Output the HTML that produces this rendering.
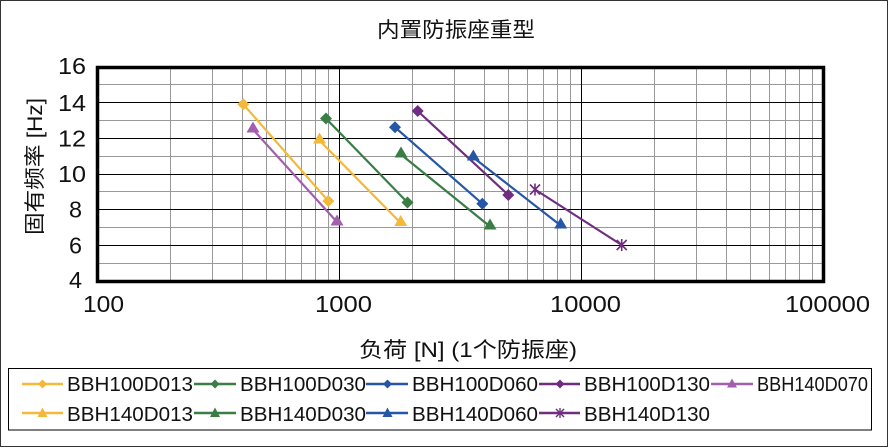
<!DOCTYPE html>
<html><head><meta charset="utf-8"><style>
html,body{margin:0;padding:0;background:#fff;}
svg{display:block;}
text{font-family:"Liberation Sans","Noto Sans CJK SC",sans-serif;fill:#111;}
</style></head><body>
<svg width="889" height="448" viewBox="0 0 889 448" xmlns="http://www.w3.org/2000/svg">
<rect x="0" y="0" width="889" height="448" fill="#fff"/>
<rect x="0.5" y="0.5" width="887" height="446" fill="none" stroke="#333" stroke-width="1"/>
<text x="377" y="37" font-size="21" textLength="158" lengthAdjust="spacingAndGlyphs">内置防振座重型</text>
<g stroke="#999" stroke-width="1" shape-rendering="crispEdges">
<line x1="170.5" y1="67" x2="170.5" y2="281"/><line x1="212.5" y1="67" x2="212.5" y2="281"/><line x1="242.5" y1="67" x2="242.5" y2="281"/><line x1="266.5" y1="67" x2="266.5" y2="281"/><line x1="285.5" y1="67" x2="285.5" y2="281"/><line x1="301.5" y1="67" x2="301.5" y2="281"/><line x1="315.5" y1="67" x2="315.5" y2="281"/><line x1="328.5" y1="67" x2="328.5" y2="281"/>
<line x1="412.5" y1="67" x2="412.5" y2="281"/><line x1="454.5" y1="67" x2="454.5" y2="281"/><line x1="484.5" y1="67" x2="484.5" y2="281"/><line x1="508.5" y1="67" x2="508.5" y2="281"/><line x1="527.5" y1="67" x2="527.5" y2="281"/><line x1="543.5" y1="67" x2="543.5" y2="281"/><line x1="557.5" y1="67" x2="557.5" y2="281"/><line x1="570.5" y1="67" x2="570.5" y2="281"/>
<line x1="654.5" y1="67" x2="654.5" y2="281"/><line x1="696.5" y1="67" x2="696.5" y2="281"/><line x1="726.5" y1="67" x2="726.5" y2="281"/><line x1="750.5" y1="67" x2="750.5" y2="281"/><line x1="769.5" y1="67" x2="769.5" y2="281"/><line x1="785.5" y1="67" x2="785.5" y2="281"/><line x1="799.5" y1="67" x2="799.5" y2="281"/><line x1="812.5" y1="67" x2="812.5" y2="281"/>
<line x1="97" y1="84.5" x2="824" y2="84.5"/><line x1="97" y1="120.5" x2="824" y2="120.5"/><line x1="97" y1="156.5" x2="824" y2="156.5"/><line x1="97" y1="191.5" x2="824" y2="191.5"/><line x1="97" y1="227.5" x2="824" y2="227.5"/><line x1="97" y1="263.5" x2="824" y2="263.5"/>
</g>
<g stroke="#000" stroke-width="1" shape-rendering="crispEdges">
<line x1="339.5" y1="67" x2="339.5" y2="281"/><line x1="581.5" y1="67" x2="581.5" y2="281"/>
<line x1="97" y1="102.5" x2="824" y2="102.5"/><line x1="97" y1="138.5" x2="824" y2="138.5"/><line x1="97" y1="174.5" x2="824" y2="174.5"/><line x1="97" y1="209.5" x2="824" y2="209.5"/><line x1="97" y1="245.5" x2="824" y2="245.5"/>
</g>
<rect x="97.5" y="67.5" width="726" height="214" fill="none" stroke="#000" stroke-width="3.5"/>
<!-- y labels -->
<g font-size="23">
<text x="58" y="74" textLength="28" lengthAdjust="spacingAndGlyphs">16</text>
<text x="58" y="111" textLength="28" lengthAdjust="spacingAndGlyphs">14</text>
<text x="58" y="146.5" textLength="28" lengthAdjust="spacingAndGlyphs">12</text>
<text x="58" y="182" textLength="28" lengthAdjust="spacingAndGlyphs">10</text>
<text x="69" y="217.5" textLength="13" lengthAdjust="spacingAndGlyphs">8</text>
<text x="69" y="253.5" textLength="13" lengthAdjust="spacingAndGlyphs">6</text>
<text x="69" y="288" textLength="13" lengthAdjust="spacingAndGlyphs">4</text>
</g>
<g font-size="23">
<text x="83" y="312" textLength="41" lengthAdjust="spacingAndGlyphs">100</text>
<text x="315" y="312" textLength="57" lengthAdjust="spacingAndGlyphs">1000</text>
<text x="550" y="312" textLength="71" lengthAdjust="spacingAndGlyphs">10000</text>
<text x="785" y="312" textLength="85" lengthAdjust="spacingAndGlyphs">100000</text>
</g>
<text transform="translate(42,235) rotate(-90)" x="0" y="0" font-size="21" textLength="137" lengthAdjust="spacingAndGlyphs">固有频率 [Hz]</text>
<text x="359" y="357" font-size="21" textLength="218" lengthAdjust="spacingAndGlyphs">负荷 [N] (1个防振座)</text>
<!-- series -->
<g stroke-width="2.2" fill="none">
<polyline points="243.3,104.3 328.3,201" stroke="#F4B93A"/>
<polyline points="253,129.5 337,222" stroke="#A45EAE"/>
<polyline points="326,118.5 407.5,202.5" stroke="#3A7D45"/>
<polyline points="319.5,140.5 400.7,223" stroke="#F4B93A"/>
<polyline points="401,154.5 490,226.5" stroke="#3A7D45"/>
<polyline points="395,127.3 482.3,203.7" stroke="#2557A6"/>
<polyline points="417.7,111 508.3,195" stroke="#702D7F"/>
<polyline points="473.3,157.5 560.7,225.5" stroke="#2557A6"/>
<polyline points="535,189.5 621.7,245" stroke="#702D7F"/>
</g>
<g>
<!-- diamonds -->
<polygon points="243.3,98.3 249.3,104.3 243.3,110.3 237.3,104.3" fill="#F4B93A"/>
<polygon points="328.3,195 334.3,201 328.3,207 322.3,201" fill="#F4B93A"/>
<polygon points="326,112.5 332,118.5 326,124.5 320,118.5" fill="#3A7D45"/>
<polygon points="407.5,196.5 413.5,202.5 407.5,208.5 401.5,202.5" fill="#3A7D45"/>
<polygon points="395,121.3 401,127.3 395,133.3 389,127.3" fill="#2557A6"/>
<polygon points="482.3,197.7 488.3,203.7 482.3,209.7 476.3,203.7" fill="#2557A6"/>
<polygon points="417.7,105 423.7,111 417.7,117 411.7,111" fill="#702D7F"/>
<polygon points="508.3,189 514.3,195 508.3,201 502.3,195" fill="#702D7F"/>
<!-- triangles -->
<polygon points="253,121.5 259.5,132.5 246.5,132.5" fill="#A45EAE"/>
<polygon points="337,214.5 343.5,225.5 330.5,225.5" fill="#A45EAE"/>
<polygon points="319.5,132.5 326,143.5 313,143.5" fill="#F4B93A"/>
<polygon points="400.7,215 407.2,226 394.2,226" fill="#F4B93A"/>
<polygon points="401,146.5 407.5,157.5 394.5,157.5" fill="#3A7D45"/>
<polygon points="490,218.5 496.5,229.5 483.5,229.5" fill="#3A7D45"/>
<polygon points="473.3,149.5 479.8,160.5 466.8,160.5" fill="#2557A6"/>
<polygon points="560.7,217.5 567.2,228.5 554.2,228.5" fill="#2557A6"/>
<!-- stars -->
<g stroke="#702D7F" stroke-width="1.6">
<line x1="530" y1="184.5" x2="540" y2="194.5"/><line x1="540" y1="184.5" x2="530" y2="194.5"/><line x1="535" y1="183.5" x2="535" y2="195.5"/>
<line x1="616.7" y1="240" x2="626.7" y2="250"/><line x1="626.7" y1="240" x2="616.7" y2="250"/><line x1="621.7" y1="239" x2="621.7" y2="251"/>
</g>
</g>
<!-- legend -->
<rect x="8.5" y="368.5" width="863" height="61.5" fill="none" stroke="#000" stroke-width="1"/>
<g stroke-width="2.6">
<line x1="22" y1="384" x2="63" y2="384" stroke="#F4B93A"/>
<line x1="194" y1="384" x2="236" y2="384" stroke="#3A7D45"/>
<line x1="366" y1="384" x2="408" y2="384" stroke="#2557A6"/>
<line x1="539" y1="384" x2="580" y2="384" stroke="#702D7F"/>
<line x1="711" y1="384" x2="753" y2="384" stroke="#A45EAE"/>
<line x1="22" y1="413" x2="63" y2="413" stroke="#F4B93A"/>
<line x1="194" y1="413" x2="236" y2="413" stroke="#3A7D45"/>
<line x1="366" y1="413" x2="408" y2="413" stroke="#2557A6"/>
<line x1="539" y1="413" x2="580" y2="413" stroke="#702D7F"/>
</g>
<polygon points="42.5,379.5 47,384 42.5,388.5 38,384" fill="#F4B93A"/>
<polygon points="215,379.5 219.5,384 215,388.5 210.5,384" fill="#3A7D45"/>
<polygon points="387.5,379.5 392,384 387.5,388.5 383,384" fill="#2557A6"/>
<polygon points="560,379.5 564.5,384 560,388.5 555.5,384" fill="#702D7F"/>
<polygon points="732,378.5 737,387.5 727,387.5" fill="#A45EAE"/>
<polygon points="42.5,407.5 47.5,417 37.5,417" fill="#F4B93A"/>
<polygon points="215,407.5 220,417 210,417" fill="#3A7D45"/>
<polygon points="387.5,407.5 392.5,417 382.5,417" fill="#2557A6"/>
<g stroke="#702D7F" stroke-width="1.4">
<line x1="556" y1="409" x2="564" y2="417"/><line x1="564" y1="409" x2="556" y2="417"/><line x1="560" y1="408" x2="560" y2="418"/>
</g>
<g font-size="20.5">
<text x="67" y="391" textLength="126" lengthAdjust="spacingAndGlyphs">BBH100D013</text>
<text x="240" y="391" textLength="126" lengthAdjust="spacingAndGlyphs">BBH100D030</text>
<text x="412" y="391" textLength="126" lengthAdjust="spacingAndGlyphs">BBH100D060</text>
<text x="584" y="391" textLength="126" lengthAdjust="spacingAndGlyphs">BBH100D130</text>
<text x="757" y="391" textLength="111" lengthAdjust="spacingAndGlyphs">BBH140D070</text>
<text x="67" y="421" textLength="126" lengthAdjust="spacingAndGlyphs">BBH140D013</text>
<text x="240" y="421" textLength="126" lengthAdjust="spacingAndGlyphs">BBH140D030</text>
<text x="412" y="421" textLength="126" lengthAdjust="spacingAndGlyphs">BBH140D060</text>
<text x="584" y="421" textLength="126" lengthAdjust="spacingAndGlyphs">BBH140D130</text>
</g>
</svg>
</body></html>
